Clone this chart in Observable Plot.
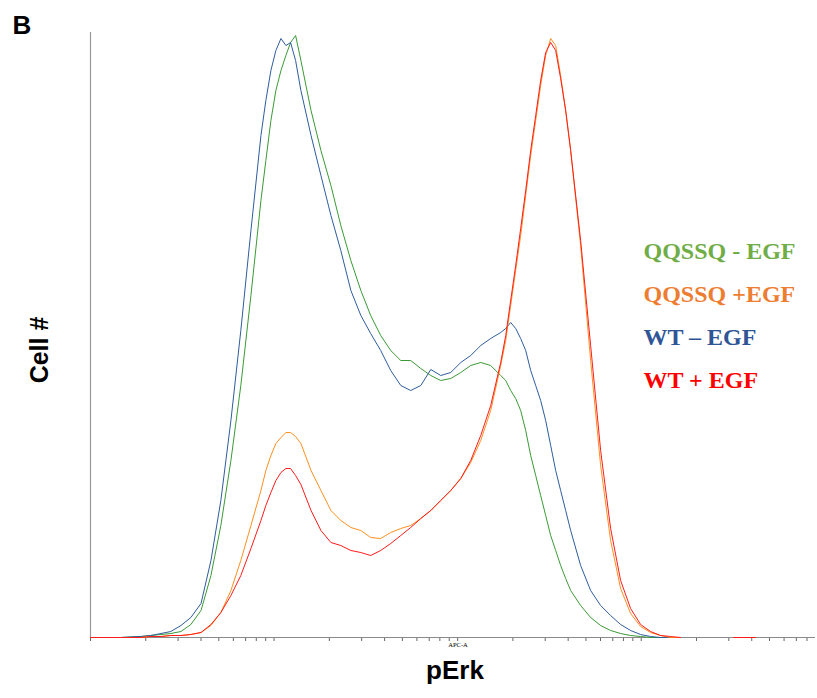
<!DOCTYPE html>
<html>
<head>
<meta charset="utf-8">
<script src="https://cdn.jsdelivr.net/npm/d3@7"></script>
<script src="https://cdn.jsdelivr.net/npm/@observablehq/plot@0.6"></script>
<style>
  html, body { margin: 0; padding: 0; background: #fff; }
  #chart svg { display: block; }
</style>
</head>
<body>
<div id="chart"></div>
<script>
// APC-A intensity bins (log axis)
const apc = [10, 11.4, 14.6, 18.8, 21.3, 24.2, 27.4, 31.1, 35.2, 40,
  45.3, 51.3, 58.2, 65.9, 74.8, 84.8, 90.2, 96.1, 102.3, 109,
  116, 123, 131, 140, 159, 180, 204, 231, 262, 297,
  336, 381, 432, 490, 555, 630, 714, 809, 917, 1040,
  1178, 1336, 1514, 1716, 1828, 1945, 2071, 2205, 2348, 2500,
  2662, 2833, 3017, 3212, 3420, 3640, 3877, 4127, 4677, 5302,
  6010, 6812, 7723, 8753, 9922, 11247, 12750, 14453, 16380, 21040,
  31850, 41950];

const seriesNames = ["QQSSQ - EGF", "WT \u2013 EGF", "QQSSQ +EGF", "WT + EGF"];

const qqssqMinus = [0, 0, 0, 1, 2, 3, 4, 6, 13, 27,
  62, 112, 177, 252, 342, 437, 477, 517, 547, 567,
  582, 595, 602, 577, 527, 487, 452, 412, 377, 347,
  322, 302, 287, 277, 277, 269, 262, 257, 259, 265,
  272, 275, 272, 262, 257, 247, 239, 227, 207, 182,
  162, 142, 122, 102, 87, 72, 59, 47, 32, 20,
  12, 7, 4, 2, 1, 0, 0, 0, 0, null,
  null, null];

const wtMinus = [0, 0, 0, 1, 2, 4, 6, 12, 20, 34,
  77, 137, 217, 307, 407, 502, 537, 567, 587, 599,
  592, 595, 577, 547, 502, 462, 422, 387, 347, 322,
  304, 287, 267, 252, 247, 252, 268, 262, 265, 275,
  282, 292, 299, 305, 309, 315, 309, 299, 287, 267,
  252, 237, 217, 192, 167, 147, 127, 107, 72, 47,
  32, 22, 13, 7, 3, 1, 0, 0, 0, null,
  null, null];

const qqssqPlus = [0, 0, 0, 0, 1, 1, 2, 2, 3, 5,
  12, 25, 47, 77, 112, 147, 167, 182, 194, 200,
  205, 205, 201, 194, 167, 147, 127, 117, 110, 107,
  100, 99, 105, 109, 112, 119, 127, 137, 147, 159,
  175, 197, 227, 272, 297, 332, 367, 402, 442, 482,
  517, 552, 582, 599, 592, 562, 527, 487, 392, 277,
  172, 97, 49, 24, 11, 5, 2, 0, 0, null,
  null, null];

const wtPlus = [0, 0, 0, 0, 1, 1, 2, 2, 3, 5,
  13, 25, 42, 62, 89, 117, 132, 145, 157, 165,
  169, 169, 162, 153, 127, 107, 95, 92, 87, 85,
  82, 87, 94, 102, 110, 119, 127, 137, 147, 159,
  177, 202, 232, 275, 302, 337, 372, 409, 447, 487,
  522, 557, 585, 595, 587, 559, 527, 487, 397, 292,
  187, 109, 57, 29, 13, 6, 2, 1, 0, null,
  0, 0];

const xTicks = [10, 20, 30, 40, 50, 60, 70, 80, 90,
  100, 200, 300, 400, 500, 600, 700, 800, 900,
  1000, 2000, 3000, 4000, 5000, 6000, 7000, 8000, 9000,
  10000, 20000, 30000, 40000, 50000, 60000, 70000, 80000];

// styles
const lineColors = ["#3a9a35", "#2e5c9c", "#ff8f1f", "#ff1a1a"];
const legendOrder = ["QQSSQ - EGF", "QQSSQ +EGF", "WT \u2013 EGF", "WT + EGF"];
const legendColors = ["#70AD47", "#ED7D31", "#2F5597", "#FF0000"];

const allSeries = [qqssqMinus, wtMinus, qqssqPlus, wtPlus];
const rows = allSeries.flatMap((vals, si) =>
  apc.map((a, i) => ({apc: a, count: vals[i], series: seriesNames[si]})));

const legendMarks = legendOrder.map((name, i) =>
  Plot.text([name], {
    frameAnchor: "top-left", textAnchor: "start", lineAnchor: "bottom",
    dx: 553, dy: 226 + i * 43.3,
    fill: legendColors[i], fontSize: 24, fontWeight: "bold",
    fontFamily: "'Liberation Serif', 'Times New Roman', serif"
  }));

const chart = Plot.plot({
  width: 817,
  height: 698,
  marginLeft: 90,
  marginRight: 2,
  marginTop: 32,
  marginBottom: 61,
  style: {background: "#fff"},
  x: {type: "log", domain: [10, 89000]},
  y: {domain: [0, 605], axis: null},
  color: {domain: seriesNames, range: lineColors},
  marks: [
    Plot.ruleX([10], {stroke: "#9a9a9a", strokeWidth: 1.2}),
    Plot.axisX(xTicks, {tickFormat: () => "", tickSize: 4, stroke: "#666", label: null}),
    Plot.ruleY([0], {stroke: "#8a8a8a", strokeWidth: 1.2}),
    Plot.line(rows, {x: "apc", y: "count", z: "series", stroke: "series", strokeWidth: 1}),
    Plot.text(["APC-A"], {frameAnchor: "bottom", dx: 5, dy: 9, fontSize: 6.5,
      fill: "#000", fontFamily: "'Liberation Serif', serif"}),
    Plot.text(["pErk"], {frameAnchor: "bottom", dx: 2, dy: 41, fontSize: 26, fontWeight: "bold",
      fill: "#000", fontFamily: "'Liberation Sans', Arial, sans-serif"}),
    Plot.text(["Cell #"], {frameAnchor: "left", textAnchor: "middle", rotate: -90, dx: -51, dy: 15,
      fontSize: 25, fontWeight: "bold", fill: "#000",
      fontFamily: "'Liberation Sans', Arial, sans-serif"}),
    Plot.text(["B"], {frameAnchor: "top-left", textAnchor: "start", lineAnchor: "bottom",
      dx: -78, dy: 1, fontSize: 26, fontWeight: "bold", fill: "#000",
      fontFamily: "'Liberation Sans', Arial, sans-serif"}),
    ...legendMarks
  ]
});

document.getElementById("chart").appendChild(chart);
</script>
</body>
</html>
